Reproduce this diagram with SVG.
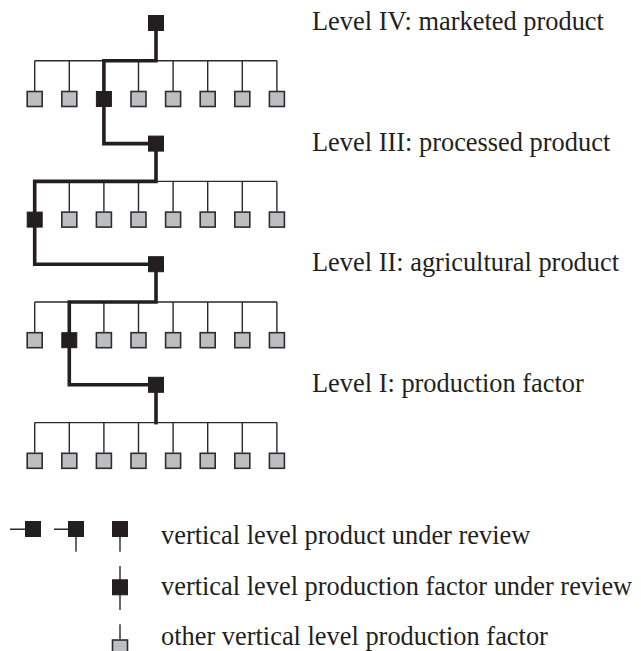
<svg xmlns="http://www.w3.org/2000/svg" width="641" height="651" viewBox="0 0 641 651">
  <style>
    .lbl { font-family: "Liberation Serif", "Times New Roman", serif; font-size: 26.4px; fill: #231f20; }
    .thin { stroke: #2a2a2a; stroke-width: 1.4; fill: none; }
    .thick { stroke: #231f20; stroke-width: 3.6; fill: none; stroke-linejoin: miter; stroke-linecap: square; }
    .blk { fill: #231f20; stroke: #231f20; stroke-width: 1; }
    .gry { fill: #bcbec0; stroke: #2e2e30; stroke-width: 1.6; }
  </style>
  <defs>
    <rect id="sq" x="-7.5" y="-7.5" width="15" height="15"/>
  </defs>
  <rect width="641" height="651" fill="#ffffff"/>

  <!-- connectors: thin buses and stubs, then the thick review path -->
  <g id="connectors">
    <!-- Level IV bus -->
    <path class="thin" d="M34.7 60.8H276.9 M34.7 60.8V91 M69.3 60.8V91 M138.5 60.8V91 M173.1 60.8V91 M207.7 60.8V91 M242.3 60.8V91 M276.9 60.8V91"/>
    <!-- Level III bus -->
    <path class="thin" d="M34.7 181.4H276.9 M69.3 181.4V211.6 M103.9 181.4V211.6 M138.5 181.4V211.6 M173.1 181.4V211.6 M207.7 181.4V211.6 M242.3 181.4V211.6 M276.9 181.4V211.6"/>
    <!-- Level II bus -->
    <path class="thin" d="M34.7 302H276.9 M34.7 302V332.2 M103.9 302V332.2 M138.5 302V332.2 M173.1 302V332.2 M207.7 302V332.2 M242.3 302V332.2 M276.9 302V332.2"/>
    <!-- Level I bus -->
    <path class="thin" d="M34.7 422.6H276.9 M34.7 422.6V452.8 M69.3 422.6V452.8 M103.9 422.6V452.8 M138.5 422.6V452.8 M173.1 422.6V452.8 M207.7 422.6V452.8 M242.3 422.6V452.8 M276.9 422.6V452.8"/>

    <!-- review path -->
    <path class="thick" d="M156 31V60.8H103.9V91"/>
    <path class="thick" d="M103.9 107V143.6H148"/>
    <path class="thick" d="M156 151.6V181.4H34.7V211.6"/>
    <path class="thick" d="M34.7 227.6V264.2H148"/>
    <path class="thick" d="M156 272.2V302H69.3V332.2"/>
    <path class="thick" d="M69.3 348.2V384.8H148"/>
    <path class="thick" d="M156 392.8V422.6"/>

    <!-- legend stubs -->
    <path class="thin" d="M10 529.3H25 M54 529.3H68.5 M76 537V551.7 M120 537V551.7 M120 566V610 M120 624.3V639.5"/>
  </g>

  <!-- Level IV -->
  <g id="level4-product"><use href="#sq" class="blk" x="156" y="23"/></g>
  <g id="level4-inputs">
    <use href="#sq" class="gry" x="34.7" y="99"/>
    <use href="#sq" class="gry" x="69.3" y="99"/>
    <use href="#sq" class="blk" x="103.9" y="99"/>
    <use href="#sq" class="gry" x="138.5" y="99"/>
    <use href="#sq" class="gry" x="173.1" y="99"/>
    <use href="#sq" class="gry" x="207.7" y="99"/>
    <use href="#sq" class="gry" x="242.3" y="99"/>
    <use href="#sq" class="gry" x="276.9" y="99"/>
  </g>

  <!-- Level III -->
  <g id="level3-product"><use href="#sq" class="blk" x="156" y="143.6"/></g>
  <g id="level3-inputs">
    <use href="#sq" class="blk" x="34.7" y="219.6"/>
    <use href="#sq" class="gry" x="69.3" y="219.6"/>
    <use href="#sq" class="gry" x="103.9" y="219.6"/>
    <use href="#sq" class="gry" x="138.5" y="219.6"/>
    <use href="#sq" class="gry" x="173.1" y="219.6"/>
    <use href="#sq" class="gry" x="207.7" y="219.6"/>
    <use href="#sq" class="gry" x="242.3" y="219.6"/>
    <use href="#sq" class="gry" x="276.9" y="219.6"/>
  </g>

  <!-- Level II -->
  <g id="level2-product"><use href="#sq" class="blk" x="156" y="264.2"/></g>
  <g id="level2-inputs">
    <use href="#sq" class="gry" x="34.7" y="340.2"/>
    <use href="#sq" class="blk" x="69.3" y="340.2"/>
    <use href="#sq" class="gry" x="103.9" y="340.2"/>
    <use href="#sq" class="gry" x="138.5" y="340.2"/>
    <use href="#sq" class="gry" x="173.1" y="340.2"/>
    <use href="#sq" class="gry" x="207.7" y="340.2"/>
    <use href="#sq" class="gry" x="242.3" y="340.2"/>
    <use href="#sq" class="gry" x="276.9" y="340.2"/>
  </g>

  <!-- Level I -->
  <g id="level1-product"><use href="#sq" class="blk" x="156" y="384.8"/></g>
  <g id="level1-inputs">
    <use href="#sq" class="gry" x="34.7" y="460.8"/>
    <use href="#sq" class="gry" x="69.3" y="460.8"/>
    <use href="#sq" class="gry" x="103.9" y="460.8"/>
    <use href="#sq" class="gry" x="138.5" y="460.8"/>
    <use href="#sq" class="gry" x="173.1" y="460.8"/>
    <use href="#sq" class="gry" x="207.7" y="460.8"/>
    <use href="#sq" class="gry" x="242.3" y="460.8"/>
    <use href="#sq" class="gry" x="276.9" y="460.8"/>
  </g>

  <!-- level captions -->
  <g id="captions">
    <text class="lbl" x="312" y="30">Level IV: marketed product</text>
    <text class="lbl" x="312" y="150.5">Level III: processed product</text>
    <text class="lbl" x="312" y="271">Level II: agricultural product</text>
    <text class="lbl" x="312" y="392">Level I: production factor</text>
  </g>

  <!-- legend -->
  <g id="legend">
    <use href="#sq" class="blk" x="33" y="529"/>
    <use href="#sq" class="blk" x="76" y="529"/>
    <use href="#sq" class="blk" x="120" y="529"/>
    <use href="#sq" class="blk" x="120" y="587.3"/>
    <use href="#sq" class="gry" x="120" y="647.5"/>
    <text class="lbl" x="161" y="543.5">vertical level product under review</text>
    <text class="lbl" x="161" y="595">vertical level production factor under review</text>
    <text class="lbl" x="161" y="645">other vertical level production factor</text>
  </g>
</svg>
